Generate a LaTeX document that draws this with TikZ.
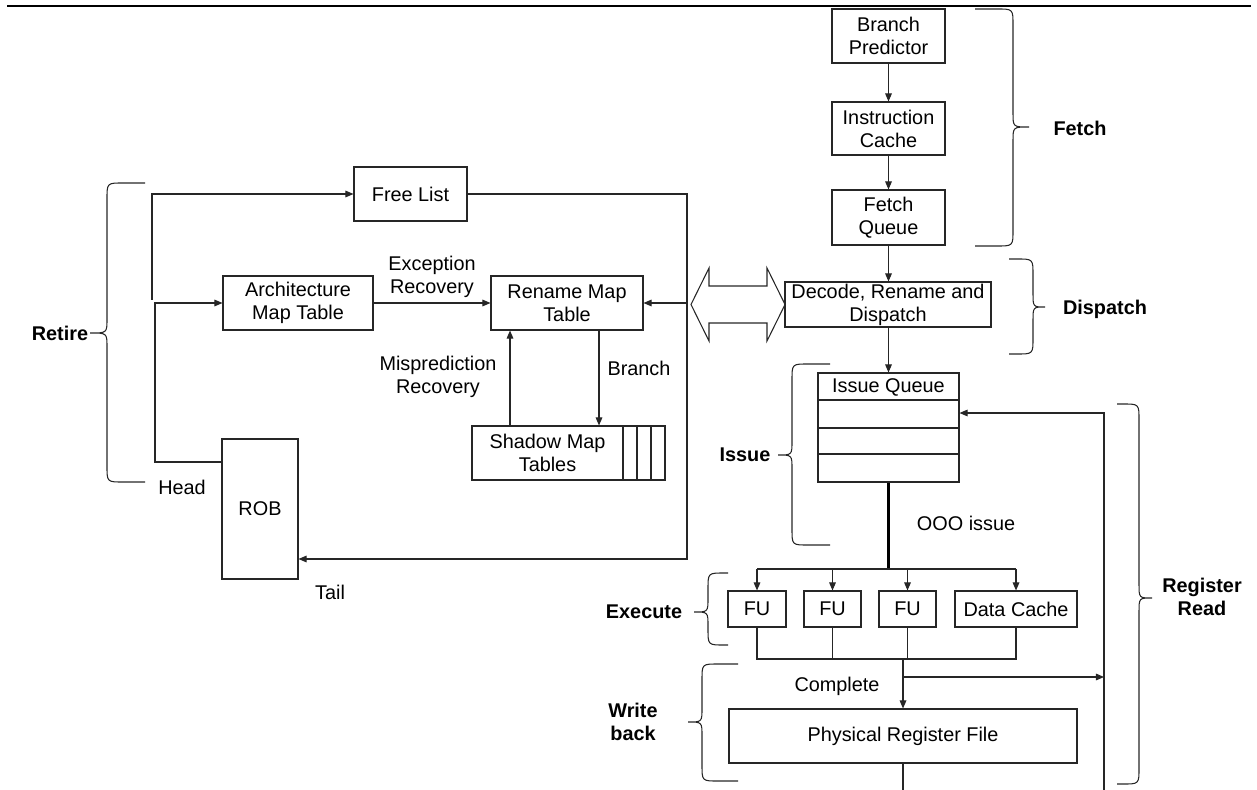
\documentclass[tikz,border=0pt]{standalone}
\usepackage{fontspec}
\setmainfont{Liberation Sans}
\usetikzlibrary{arrows.meta}
\newcommand\lblsize{\fontsize{11.3}{13}\selectfont}
% stage brace: #1 free end x, #2 end of straight part, #3 spine x, #4 tip x,
% #5 top y, #6 tip y, #7 bottom y
\newcommand\stagebrace[7]{%
  \draw[bracestyle] (#1,#5) -- (#2,#5) .. controls (#3,#5) .. (#3,#5+16)
    -- (#3,#6-14) .. controls (#3,#6) .. (#4,#6)
    .. controls (#3,#6) .. (#3,#6+14) -- (#3,#7-16)
    .. controls (#3,#7) .. (#2,#7) -- (#1,#7);}
\begin{document}
\begin{tikzpicture}[x=0.02cm,y=-0.02cm,font=\lblsize,
  ln/.style={draw=black!85,line width=0.6pt},
  box/.style={ln,rectangle,inner sep=0pt,align=center},
  sz/.style 2 args={minimum width=#1*0.02cm,minimum height=#2*0.02cm},
  arr/.style={ln,-{Triangle[length=4.6pt,width=3.8pt]}},
  bracestyle/.style={ln},
  stage/.style={font=\lblsize\bfseries,align=center,inner sep=0pt},
  txt/.style={align=center,inner sep=0pt}]
\useasboundingbox (0,0) rectangle (1257,790);
\draw[line width=1.4pt] (7,6) -- (1251,6);

% ---------- front end ----------
\node[box,sz={113}{54}] (bp) at (888.5,36) {Branch\\Predictor};
\node[box,sz={113}{53}] (ic) at (888.5,128.5) {Instruction\\Cache};
\node[box,sz={113}{55}] (fq) at (888.5,217.5) {Fetch\\Queue};
\node[box,sz={206}{45}] (dec) at (888,304.5) {Decode, Rename and\\Dispatch};
\node[box,sz={141}{109}] (iq) at (888.5,427.5) {};
\node[txt] (iqt) at (888.5,387) {Issue Queue};
\foreach \yy in {400,428,454} \draw[ln] (iq.west |- 0,\yy) -- (iq.east |- 0,\yy);

\draw[arr] (bp.south) -- (ic.north);
\draw[arr] (ic.south) -- (fq.north);
\draw[arr] (fq.south) -- (fq.south |- dec.north);
\draw[arr] (dec.south -| iq.north) -- (iq.north);

% ---------- execute ----------
\coordinate (sp) at (888.5,569);
\draw[line width=1.2pt] (iq.south) -- (sp);
\node[box,sz={58}{36}] (fu1) at (757,609) {FU};
\node[box,sz={57}{36}] (fu2) at (832.5,609) {FU};
\node[box,sz={57}{36}] (fu3) at (907.5,609) {FU};
\node[box,sz={122}{36}] (dc) at (1016,609) {Data Cache};
\draw[ln] (fu1.north |- sp) -- (dc.north |- sp);
\foreach \n in {fu1,fu2,fu3,dc} \draw[arr] (\n.north |- sp) -- (\n.north);
\node[txt] (ooo) at (966,523) {OOO issue};

% ---------- write back ----------
\coordinate (jn) at (903,659);
\draw[ln] (fu1.south) -- (fu1.south |- jn) -- (dc.south |- jn) -- (dc.south);
\draw[ln] (fu2.south) -- (fu2.south |- jn);
\draw[ln] (fu3.south) -- (fu3.south |- jn);
\node[box,sz={348}{54}] (prf) at (903,736) {Physical Register File};
\draw[arr] (jn) -- (prf.north);
\node[txt] (cpl) at (837,686) {Complete};
\coordinate (cb) at (903,677);
\coordinate (rr) at (1104,677);
\draw[arr] (cb) -- (rr);
\coordinate (pb) at (903,790);
\draw[ln] (prf.south) -- (pb);
\coordinate (rrb) at (1104,790);
\coordinate (rrt) at (1104,413);
\draw[arr] (rrb) -- (rrt) -- (iq.east |- rrt);

% ---------- rename / retire ----------
\node[box,sz={113}{54}] (fl) at (410.5,194) {Free List};
\node[box,sz={150}{54}] (amt) at (298,303) {Architecture\\Map Table};
\node[box,sz={152}{54}] (rmt) at (567,303) {Rename Map\\Table};
\node[box,sz={151}{54}] (smt) at (547.5,453) {Shadow Map\\Tables};
\node[box,sz={14}{54}] (s1) at (630,453) {};
\node[box,sz={14}{54}] (s2) at (644,453) {};
\node[box,sz={14}{54}] (s3) at (658,453) {};
\node[box,sz={76}{140}] (rob) at (260,509) {ROB};

\coordinate (lpt) at (687,194);
\coordinate (lpb) at (687,559);
\draw[arr] (fl.east) -- (lpt) -- (lpb) -- (rob.east |- lpb);
\draw[arr] (rmt.east -| lpt) -- (rmt.east);

\coordinate (la) at (152,300);
\coordinate (lb) at (152,194);
\draw[arr] (la) -- (lb) -- (fl.west);
\coordinate (lc) at (155,462);
\coordinate (ld) at (155,303);
\draw[arr] (rob.west |- lc) -- (lc) -- (ld) -- (amt.west);

\draw[arr] (amt.east) -- (rmt.west);
\node[txt] (exr) at (432,277) {Exception\\Recovery};
\coordinate (mp) at (510,380);
\coordinate (brn) at (599,380);
\draw[arr] (smt.north -| mp) -- (rmt.south -| mp);
\draw[arr] (rmt.south -| brn) -- (smt.north -| brn);
\node[txt] (mpr) at (438,377) {Misprediction\\Recovery};
\node[txt] (brl) at (639,368) {Branch};
\node[txt] (hd) at (182,487) {Head};
\node[txt] (tl) at (330,592) {Tail};

% hollow two-way arrow between rename logic and decode
\draw[ln] (691,304.5) -- (709,268) -- (709,286) -- (767,286) -- (767,268)
  -- (785,304.5) -- (767,341) -- (767,323) -- (709,323) -- (709,341) -- cycle;

% ---------- stage braces ----------
\stagebrace{975}{997}{1013}{1029}{9}{127}{246}
\node[stage] (stf) at (1080,128) {Fetch};
\stagebrace{1009}{1017}{1033}{1045}{259}{307}{354}
\node[stage] (std) at (1105,309) {Dispatch};
\stagebrace{145}{123}{107}{90}{183}{333}{482}
\node[stage] (str) at (60,333) {Retire};
\stagebrace{830}{808}{792}{778}{364}{455}{545}
\node[stage] (sti) at (745,455) {Issue};
\stagebrace{728}{724}{708}{694}{573}{612}{645}
\node[stage] (ste) at (644,612) {Execute};
\stagebrace{738}{718}{702}{688}{664}{722}{781}
\node[stage] (stw) at (633,722) {Write\\back};
\stagebrace{1117}{1123}{1139}{1152}{404}{598}{784}
\node[stage] (strr) at (1202,597) {Register\\Read};
\end{tikzpicture}
\end{document}
